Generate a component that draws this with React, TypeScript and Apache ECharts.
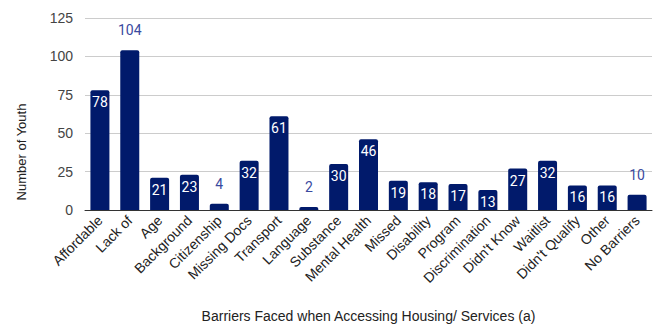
import React, { useEffect, useRef } from "react";
import * as echarts from "echarts";

const categories = [
  "Affordable", "Lack of", "Age", "Background", "Citizenship", "Missing Docs",
  "Transport", "Language", "Substance", "Mental Health", "Missed", "Disability",
  "Program", "Discrimination", "Didn't Know", "Waitlist", "Didn't Qualify",
  "Other", "No Barriers",
];
const values = [78, 104, 21, 23, 4, 32, 61, 2, 30, 46, 19, 18, 17, 13, 27, 32, 16, 16, 10];
const outsideLabel = [false, true, false, false, true, false, false, true, false, false, false, false, false, false, false, false, false, false, true];
const yTicks = [0, 25, 50, 75, 100, 125];
const yTitle = "Number of Youth";
const xTitle = "Barriers Faced when Accessing Housing/ Services (a)";

export default function App() {
  const ref = useRef<HTMLDivElement>(null);
  useEffect(() => {
    if (!ref.current) return;
    const chart = echarts.init(ref.current, null, { renderer: "svg" });
    const data = values.map((v, i) => ({
      value: v,
      label: outsideLabel[i]
        ? { position: "top", distance: 13, color: "#3a4a9f" }
        : { position: "insideTop", distance: 5, color: "#ffffff" },
    }));
    chart.setOption({
      animation: false,
      grid: { left: 85, right: 13, top: 18, bottom: 115 },
      graphic: [
        {
          type: "text",
          x: 21,
          y: 152,
          rotation: Math.PI / 2,
          style: {
            text: yTitle,
            fontFamily: "Liberation Sans, Arial",
            fontSize: 13,
            fill: "#222",
            align: "center",
            verticalAlign: "middle",
          },
        },
      ],
      xAxis: {
        type: "category",
        data: categories,
        name: xTitle,
        nameLocation: "middle",
        nameGap: 99,
        nameTextStyle: { fontFamily: "Liberation Sans, Arial", fontSize: 14, color: "#222" },
        axisLine: { lineStyle: { color: "#333", width: 1 } },
        axisTick: { show: false },
        axisLabel: {
          rotate: 45,
          interval: 0,
          margin: 8,
          fontFamily: "Liberation Sans, Arial",
          fontSize: 14,
          color: "#222",
        },
      },
      yAxis: {
        type: "value",
        min: yTicks[0],
        max: yTicks[yTicks.length - 1],
        interval: 25,
        axisLine: { show: false },
        axisTick: { show: false },
        splitLine: { lineStyle: { color: "#cccccc" } },
        axisLabel: { margin: 12, fontFamily: "Liberation Sans, Arial", fontSize: 14, color: "#444" },
      },
      series: [
        {
          type: "bar",
          data,
          barWidth: 19,
          itemStyle: { color: "#011a6b", borderRadius: [2, 2, 0, 0] },
          label: { show: true, fontFamily: "Roboto", fontSize: 14 },
        },
      ],
    });
    return () => chart.dispose();
  }, []);
  return <div ref={ref} style={{ width: 665, height: 328, position: "absolute", left: 0, top: 0 }} />;
}
